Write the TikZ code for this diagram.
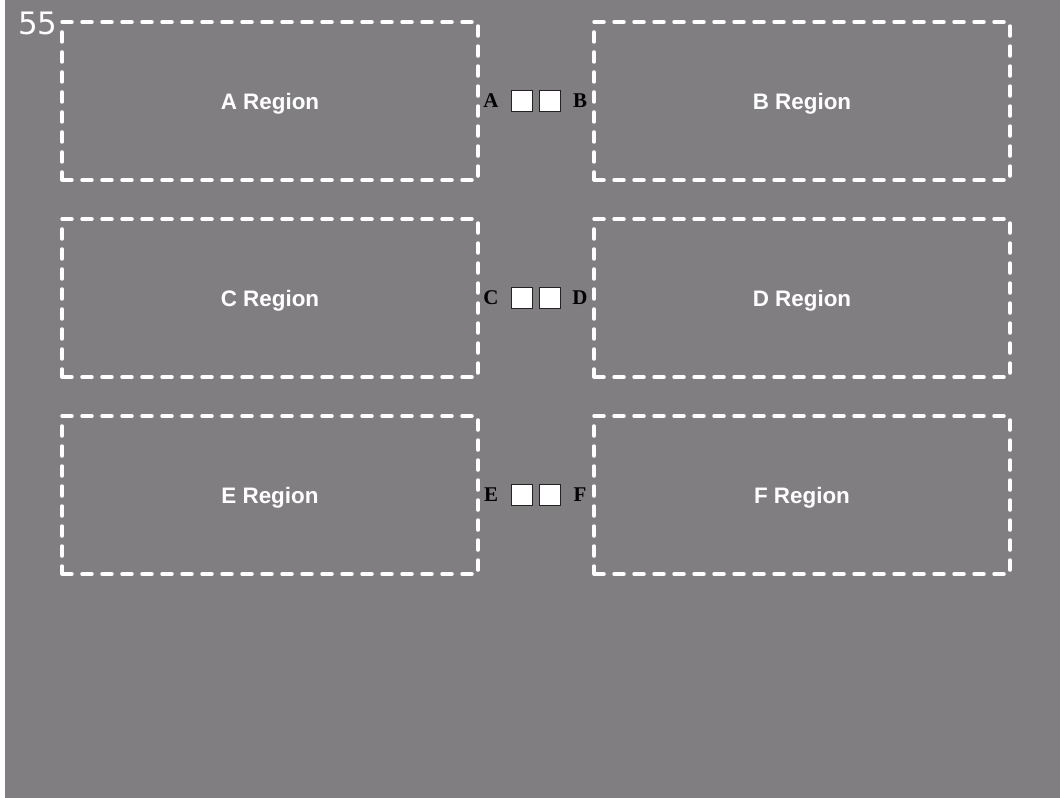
\documentclass[tikz,border=0pt]{standalone}
\usepackage{fontspec}
\setmainfont{Liberation Sans}
\newfontfamily\tagfont{Liberation Serif}
\newfontfamily\countfont{DejaVu Sans}
\definecolor{bggray}{RGB}{128,126,129}
\definecolor{slotedge}{RGB}{35,35,35}
\tikzset{
  regionbox/.style={draw=white, line width=3.5bp, dash pattern=on 10bp off 10bp,
    line cap=round, minimum width=416bp, minimum height=158bp, text=white,
    text depth=0pt, font=\bfseries\fontsize{22.5}{22.5}\selectfont},
  slot/.style={draw=slotedge, fill=white, line width=1.5bp, minimum size=21bp, inner sep=0pt},
  tag/.style={font=\tagfont\bfseries\fontsize{21}{21}\selectfont, text=black, inner sep=0pt},
}
\begin{document}
\begin{tikzpicture}[x=1bp,y=-1bp]
  \useasboundingbox (0,0) rectangle (1060,798);
  \fill[white] (0,0) rectangle (5,798);
  \fill[bggray] (5,0) rectangle (1060,798);
  % regions, side by side, with the two slots between them
  \foreach \l/\r/\y in {A/B/101, C/D/298, E/F/495}{
    \node[regionbox] (region\l) at (270,\y) {\l\ Region};
    \node[regionbox] (region\r) at (802,\y) {\r\ Region};
    \node[slot] (slot\l) at (522,\y) {};
    \node[slot] (slot\r) at (550,\y) {};
    \node[tag] (tag\l) at (491,\y) {\l};
    \node[tag] (tag\r) at (580,\y) {\r};
  }
  \node[text=white, font=\countfont\fontsize{31}{31}\selectfont, inner sep=0pt] (count) at (38,23) {55};
\end{tikzpicture}
\end{document}
